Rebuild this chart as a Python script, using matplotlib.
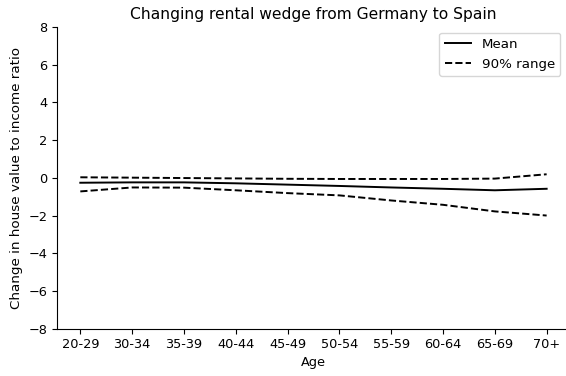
import matplotlib
matplotlib.use("Agg")
import matplotlib.pyplot as plt

ages = ["20-29", "30-34", "35-39", "40-44", "45-49", "50-54", "55-59", "60-64", "65-69", "70+"]
mean_change = [-0.26, -0.24, -0.24, -0.29, -0.36, -0.43, -0.51, -0.58, -0.66, -0.58]
upper_90 = [0.03, 0.01, -0.01, -0.03, -0.05, -0.06, -0.06, -0.06, -0.04, 0.19]
lower_90 = [-0.72, -0.51, -0.52, -0.66, -0.81, -0.93, -1.2, -1.43, -1.78, -2.0]

plt.rcParams["font.size"] = 9.3

fig, ax = plt.subplots(figsize=(5.66, 3.76), dpi=100)
x = range(len(ages))
ax.plot(x, mean_change, color="black", linestyle="-", linewidth=1.4, label="Mean")
ax.plot(x, upper_90, color="black", linestyle="--", linewidth=1.4, label="90% range")
ax.plot(x, lower_90, color="black", linestyle="--", linewidth=1.4)

ax.set_xticks(list(x))
ax.set_xticklabels(ages)
ax.set_ylim(-8, 8)
ax.set_yticks(range(-8, 9, 2))
ax.set_xlabel("Age", labelpad=3)
ax.set_ylabel("Change in house value to income ratio", fontsize=9.7)
ax.set_title("Changing rental wedge from Germany to Spain", fontsize=11.2)
ax.spines["top"].set_visible(False)
ax.spines["right"].set_visible(False)
ax.legend(loc="upper right", bbox_to_anchor=(1.002, 0.931),
          bbox_transform=fig.transFigure, fontsize=9.6)

fig.subplots_adjust(left=0.1007, right=1.007, top=0.928, bottom=0.126)
fig.savefig("out.png", dpi=100)
